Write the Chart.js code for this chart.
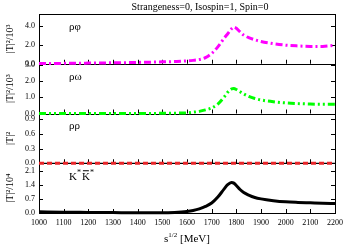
<!DOCTYPE html>
<html>
<head>
<meta charset="utf-8">
<script src="https://cdn.jsdelivr.net/npm/chart.js@4.4.0/dist/chart.umd.min.js"></script>
<style>
  html, body { margin: 0; padding: 0; background: #fff; }
  #wrap { width: 350px; height: 245px; }
</style>
</head>
<body>
<div id="wrap"><canvas id="chart"></canvas></div>
<script>
// sqrt(s) in MeV
const energies = [1000, 1100, 1200, 1300, 1400, 1500, 1550, 1600, 1625, 1650, 1675, 1700, 1725, 1750,
  1765, 1780, 1790, 1800, 1815, 1830, 1850, 1875, 1900, 1950, 2000, 2050, 2100, 2150, 2200];

// |T|^2 / 10^3
const rhoPhi = [0.02, 0.04, 0.07, 0.1, 0.14, 0.2, 0.24, 0.3, 0.36, 0.45, 0.65, 1.1, 1.8, 2.7,
  3.2, 3.7, 3.9, 3.78, 3.4, 3.05, 2.78, 2.55, 2.37, 2.14, 1.98, 1.9, 1.85, 1.85, 1.97];
// |T|^2 / 10^3
const rhoOmega = [0.0, 0.0, 0.0, 0.0, 0.005, 0.01, 0.02, 0.04, 0.08, 0.13, 0.22, 0.34, 0.58, 1.0,
  1.3, 1.5, 1.53, 1.47, 1.33, 1.2, 1.05, 0.92, 0.83, 0.72, 0.65, 0.61, 0.58, 0.57, 0.57];
// |T|^2
const rhoRho = [0, 0, 0, 0, 0, 0, 0, 0, 0, 0, 0, 0, 0, 0,
  0, 0, 0, 0, 0, 0, 0, 0, 0, 0, 0, 0, 0, 0, 0];
// |T|^2 / 10^4
const kstarKstar = [0.06, 0.04, 0.03, 0.02, 0.01, 0.01, 0.03, 0.08, 0.13, 0.21, 0.33, 0.5, 0.8, 1.2,
  1.42, 1.53, 1.5, 1.38, 1.18, 1.03, 0.9, 0.78, 0.71, 0.62, 0.56, 0.53, 0.51, 0.49, 0.48];

const xTicks = { min: 1000, max: 2200, step: 100 };
// top to bottom
const panels = [
  { id: 'yPhi', label: 'ρφ', title: '|T|²/10³', max: 5.3, step: 2 },
  { id: 'yOmega', label: 'ρω', title: '|T|²/10³', max: 3.05, step: 1 },
  { id: 'yRho', label: 'ρρ', title: '|T|²', max: 1.02, step: 0.3 },
  { id: 'yKK', label: 'KK', title: '|T|²/10⁴', max: 2.5, step: 0.7 }
];

const serif = 'Liberation Serif, Times New Roman, serif';

function pts(vals) {
  return energies.map((e, i) => ({ x: e, y: vals[i] }));
}

function yScale(p) {
  return {
    type: 'linear',
    position: 'left',
    stack: 'panels',
    stackWeight: 1,
    min: 0,
    max: p.max,
    grid: { display: false, drawTicks: false },
    border: { display: false },
    ticks: {
      stepSize: p.step,
      includeBounds: false,
      autoSkip: false,
      padding: 4,
      color: '#000',
      font: { family: serif, size: 8 },
      callback: v => v.toFixed(1)
    },
    title: {
      display: true,
      text: p.title,
      color: '#000',
      padding: { top: 4, bottom: 0 },
      font: { family: serif, size: 10 }
    },
    afterFit: s => { s.width = 39; }
  };
}

// panel frames with inward ticks (under the curves)
const frames = {
  id: 'frames',
  beforeDatasetsDraw(chart) {
    const ctx = chart.ctx;
    const area = chart.chartArea;
    const x = chart.scales.x;
    ctx.save();
    ctx.strokeStyle = '#000';
    ctx.lineWidth = 1;
    panels.forEach(p => {
      const s = chart.scales[p.id];
      ctx.strokeRect(area.left + 0.5, Math.round(s.top) + 0.5, area.right - area.left, Math.round(s.bottom) - Math.round(s.top));
      ctx.beginPath();
      s.ticks.forEach(t => {
        const py = Math.round(s.getPixelForValue(t.value)) + 0.5;
        ctx.moveTo(area.left, py); ctx.lineTo(area.left + 4, py);
        ctx.moveTo(area.right, py); ctx.lineTo(area.right - 4, py);
      });
      x.ticks.forEach(t => {
        const px = Math.round(x.getPixelForValue(t.value)) + 0.5;
        ctx.moveTo(px, s.bottom); ctx.lineTo(px, s.bottom - 4);
      });
      ctx.stroke();
    });
    ctx.restore();
  }
};

// panel names and the text that Chart.js can't typeset
const texts = {
  id: 'texts',
  afterDatasetsDraw(chart) {
    const ctx = chart.ctx;
    const area = chart.chartArea;
    ctx.save();
    ctx.fillStyle = '#000';
    ctx.strokeStyle = '#000';
    ctx.lineWidth = 1;
    panels.forEach(p => {
      const s = chart.scales[p.id];
      ctx.textBaseline = 'middle';
      ctx.textAlign = 'left';
      const lx = area.left + 30;
      const ly = s.top + 13;
      if (p.label === 'KK') {
        ctx.font = '11px ' + serif;
        ctx.fillText('K', lx, ly + 1);
        let w = ctx.measureText('K').width;
        ctx.font = '8px ' + serif;
        ctx.fillText('*', lx + w, ly - 3);
        w += ctx.measureText('*').width + 1;
        ctx.font = '11px ' + serif;
        ctx.fillText('K', lx + w, ly + 1);
        const kw = ctx.measureText('K').width;
        ctx.beginPath();
        ctx.moveTo(lx + w + 1, ly - 5.5); ctx.lineTo(lx + w + kw - 1, ly - 5.5);
        ctx.stroke();
        ctx.font = '8px ' + serif;
        ctx.fillText('*', lx + w + kw, ly - 3);
      } else {
        ctx.font = '11px ' + serif;
        ctx.fillText(p.label, lx, ly);
      }
    });

    // chart title
    ctx.font = '10px ' + serif;
    ctx.textAlign = 'center';
    ctx.textBaseline = 'middle';
    ctx.fillText('Strangeness=0, Isospin=1, Spin=0', 200, 7);

    // x axis title: s^{1/2} [MeV]
    ctx.textAlign = 'left';
    ctx.textBaseline = 'alphabetic';
    ctx.font = '11px ' + serif;
    const sw = ctx.measureText('s').width;
    ctx.font = '7px ' + serif;
    const hw = ctx.measureText('1/2').width;
    ctx.font = '11px ' + serif;
    const mw = ctx.measureText(' [MeV]').width;
    const x0 = (area.left + area.right) / 2 - (sw + hw + mw) / 2;
    const by = 242;
    ctx.fillText('s', x0, by);
    ctx.font = '7px ' + serif;
    ctx.fillText('1/2', x0 + sw, by - 5);
    ctx.font = '11px ' + serif;
    ctx.fillText(' [MeV]', x0 + sw + hw, by);
    ctx.restore();
  }
};

const scales = {
  x: {
    type: 'linear',
    min: xTicks.min,
    max: xTicks.max,
    grid: { display: false, drawTicks: false },
    border: { display: false },
    ticks: {
      stepSize: xTicks.step,
      autoSkip: false,
      maxRotation: 0,
      padding: 5,
      color: '#000',
      font: { family: serif, size: 8 },
      callback: v => String(v)
    },
    afterFit: s => { s.height = 32; }
  }
};
// stacked scales are laid out bottom first
panels.slice().reverse().forEach(p => { scales[p.id] = yScale(p); });

const base = { pointRadius: 0, fill: false, clip: false, cubicInterpolationMode: 'monotone', borderCapStyle: 'butt' };

// Chart.js paints the first dataset on top
new Chart(document.getElementById('chart').getContext('2d'), {
  type: 'line',
  data: {
    datasets: [
      Object.assign({}, base, { label: 'ρφ', data: pts(rhoPhi), yAxisID: 'yPhi',
        borderColor: '#ff00ff', borderWidth: 3, borderDash: [7, 3, 2, 3] }),
      Object.assign({}, base, { label: 'ρω', data: pts(rhoOmega), yAxisID: 'yOmega',
        borderColor: '#00ff00', borderWidth: 3, borderDash: [7, 3, 2, 3, 2, 3] }),
      Object.assign({}, base, { label: 'ρρ', data: pts(rhoRho), yAxisID: 'yRho',
        borderColor: '#e8262a', borderWidth: 3, borderDash: [5, 3] }),
      Object.assign({}, base, { label: 'zero', data: pts(rhoRho), yAxisID: 'yRho',
        borderColor: '#000', borderWidth: 1 }),
      Object.assign({}, base, { label: 'K*K*', data: pts(kstarKstar), yAxisID: 'yKK',
        borderColor: '#000', borderWidth: 3 })
    ]
  },
  options: {
    responsive: true,
    maintainAspectRatio: false,
    animation: false,
    devicePixelRatio: 1,
    layout: { padding: { top: 14, right: 15, bottom: 0, left: 0 } },
    plugins: {
      legend: { display: false },
      tooltip: { enabled: false },
      title: { display: false }
    },
    scales: scales
  },
  plugins: [frames, texts]
});
</script>
</body>
</html>
